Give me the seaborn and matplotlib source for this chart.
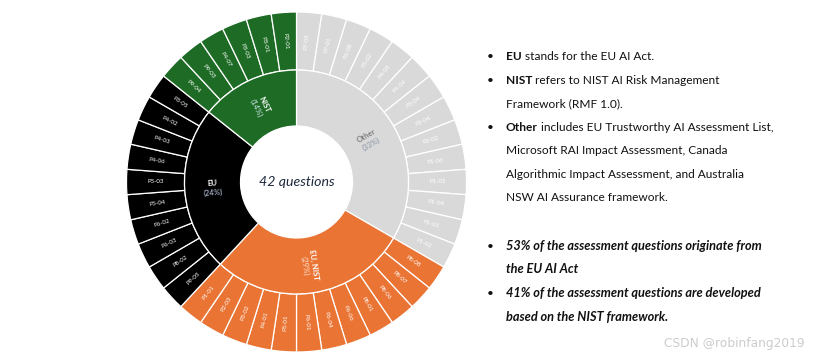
import numpy as np
import matplotlib
matplotlib.use("Agg")
import matplotlib.pyplot as plt
import seaborn as sns

# ---------------- data ----------------
groups = ["Other", "EU, NIST", "EU", "NIST"]
group_pct = ["(33%)", "(29%)", "(24%)", "(14%)"]
group_colors = ["#d9d9d9", "#ea7434", "#000000", "#1d6b24"]
name_colors = ["#7f7f7f", "white", "white", "white"]
pct_colors = ["#8a93a6", "#fde3d0", "#c9d6f2", "#cfe8ee"]

other_q = ["P7-02", "P7-01", "P6-08", "P5-02", "P4-05", "P4-04", "P3-04",
           "P2-04", "P2-02", "P1-06", "P1-05", "P1-04", "P1-03", "P1-02"]
eu_nist_q = ["P8-08", "P8-07", "P8-06", "P8-01", "P6-06", "P6-04", "P6-01",
             "P5-01", "P4-01", "P3-02", "P2-03", "P1-01"]
eu_q = ["P9-05", "P8-02", "P6-03", "P6-02", "P5-04", "P5-03", "P4-06",
        "P4-03", "P4-02", "P3-05"]
nist_q = ["P9-04", "P9-03", "P4-07", "P3-03", "P3-01", "P2-01"]
question_groups = [other_q, eu_nist_q, eu_q, nist_q]

center_label = "42 questions"

notes = [
    ("EU", " stands for the EU AI Act."),
    ("NIST", " refers to NIST AI Risk Management"),
    ("", "Framework (RMF 1.0)."),
    ("Other", " includes EU Trustworthy AI Assessment List,"),
    ("", "Microsoft RAI Impact Assessment, Canada"),
    ("", "Algorithmic Impact Assessment, and Australia"),
    ("", "NSW AI Assurance framework."),
]
note_bullets = [True, True, False, True, False, False, False]
findings = [
    "53% of the assessment questions originate from",
    "the EU AI Act",
    "41% of the assessment questions are developed",
    "based on the NIST framework.",
]
finding_bullets = [True, False, True, False]

# ---------------- figure ----------------
sns.set_theme(style="white")
plt.rcParams['font.family'] = ['Lato', 'DejaVu Sans']

W, H = 831, 358
fig = plt.figure(figsize=(W / 100, H / 100), dpi=100)
ax = fig.add_axes([0, 0, 1, 1])

cx, cy = 296.5, H - 182
R_out, R_mid, R_in = 170, 112, 56

inner_counts = [len(q) for q in question_groups]
outer_labels = sum(question_groups, [])
outer_colors = sum([[c] * len(q) for c, q in zip(group_colors, question_groups)], [])

wedge_outer, _ = ax.pie(np.ones(len(outer_labels)), radius=R_out, center=(cx, cy),
                        startangle=90, counterclock=False, colors=outer_colors,
                        wedgeprops=dict(width=R_out - R_mid, edgecolor="white", linewidth=0.9),
                        frame=True)
wedge_inner, _ = ax.pie(inner_counts, radius=R_mid, center=(cx, cy),
                        startangle=90, counterclock=False, colors=group_colors,
                        wedgeprops=dict(width=R_mid - R_in, edgecolor="white", linewidth=0.9),
                        frame=True)


def radial_rot(theta):
    t = ((theta + 180) % 360) - 180
    if t > 90:
        t -= 180
    elif t < -90:
        t += 180
    return t


for w, lab in zip(wedge_outer, outer_labels):
    th = (w.theta1 + w.theta2) / 2
    r = (R_out + R_mid) / 2
    x = cx + r * np.cos(np.radians(th))
    y = cy + r * np.sin(np.radians(th))
    ax.text(x, y, lab, rotation=radial_rot(th), rotation_mode="anchor",
            ha="center", va="center", fontsize=4.4, color="white")

for w, name, pct, nc, pc in zip(wedge_inner, groups, group_pct, name_colors, pct_colors):
    th = (w.theta1 + w.theta2) / 2
    r = (R_mid + R_in) / 2
    rot = radial_rot(th)
    x = cx + r * np.cos(np.radians(th))
    y = cy + r * np.sin(np.radians(th))
    nx, ny = np.cos(np.radians(rot + 90)), np.sin(np.radians(rot + 90))
    d = 4.8
    ax.text(x + d * nx, y + d * ny, name, rotation=rot, rotation_mode="anchor",
            ha="center", va="center", fontsize=5.6, fontweight="bold", color=nc)
    ax.text(x - d * nx, y - d * ny, pct, rotation=rot, rotation_mode="anchor",
            ha="center", va="center", fontsize=5.6, color=pc)

ax.text(cx, cy, center_label, ha="center", va="center", fontsize=10.2,
        fontstyle="italic", color="#1f2a3d")

# ---------------- right-hand notes ----------------
bullet_x, text_x = 490, 506
note_y = [56, 80, 103, 127, 150, 174, 197]
fs = 8.6
for (bold, rest), b, yp in zip(notes, note_bullets, note_y):
    yb = H - yp - 4
    if b:
        ax.text(bullet_x, yb, "•", ha="center", va="baseline", fontsize=fs, color="#111111")
    if bold:
        t = ax.text(text_x, yb, bold, ha="left", va="baseline", fontsize=fs,
                    fontweight="bold", color="#111111")
        ax.annotate(rest, xy=(1, yb), xycoords=(t, "data"), ha="left", va="baseline",
                    fontsize=fs, color="#111111")
    else:
        ax.text(text_x, yb, rest, ha="left", va="baseline", fontsize=fs, color="#111111")

find_y = [246, 269, 293, 317]
fs2 = 9.2
for txt, b, yp in zip(findings, finding_bullets, find_y):
    yb = H - yp - 4
    if b:
        ax.text(bullet_x, yb, "•", ha="center", va="baseline", fontsize=fs, color="#111111")
    ax.text(text_x, yb, txt, ha="left", va="baseline", fontsize=fs2,
            fontweight="bold", fontstyle="italic", color="#111111")

ax.text(805, H - 343, "CSDN @robinfang2019", ha="right", va="center", fontsize=8.8,
        color="#cccccc", family=["DejaVu Sans"])

ax.set_xlim(0, W)
ax.set_ylim(0, H)
ax.set_aspect("equal")
ax.axis("off")

fig.savefig("out.png", dpi=100, facecolor="white")
